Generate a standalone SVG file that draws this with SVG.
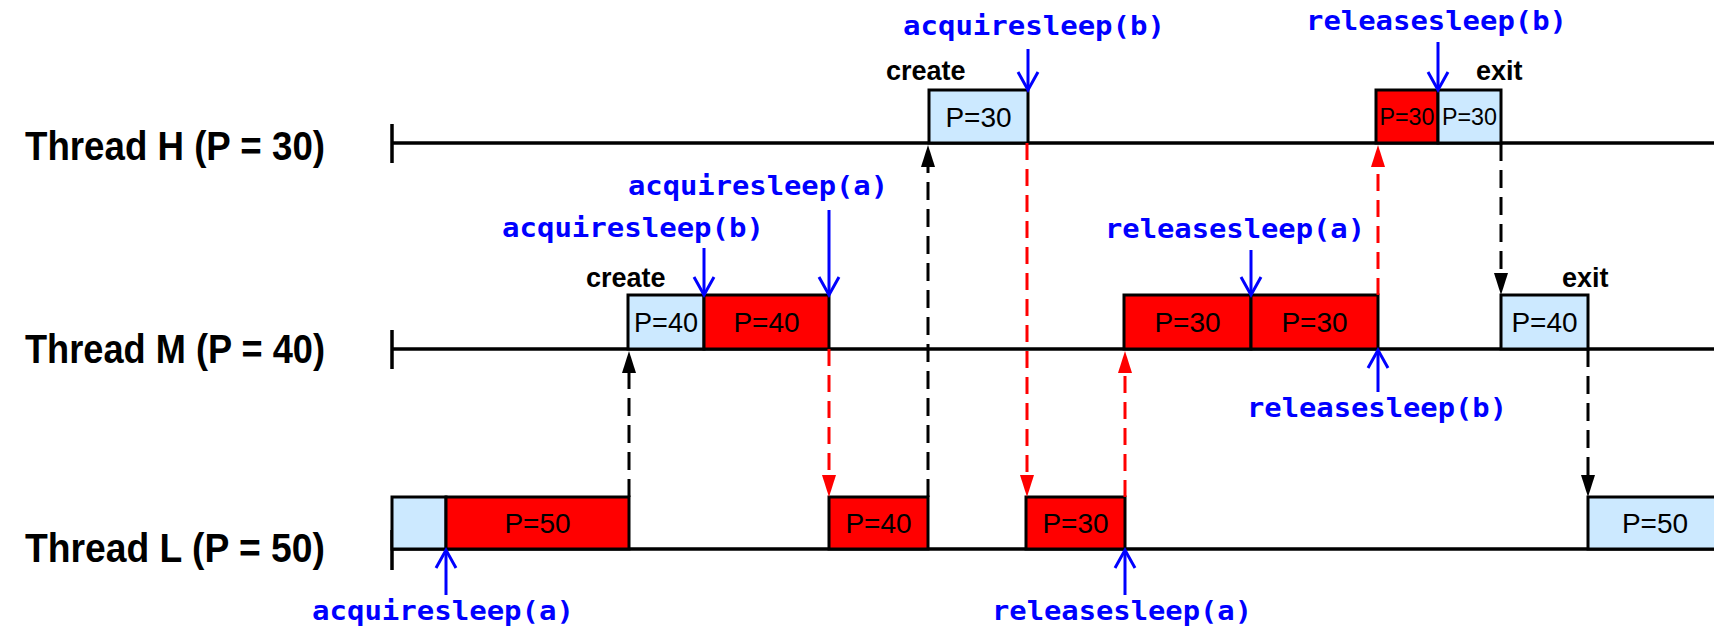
<svg xmlns="http://www.w3.org/2000/svg" width="1714" height="630" viewBox="0 0 1714 630">
<style>
.bg{fill:#ffffff}
.tl{stroke:#000;stroke-width:3.5;fill:none}
.lb{fill:#CCE9FF;stroke:#000;stroke-width:3}
.rd{fill:#FF0000;stroke:#000;stroke-width:3}
.thr{font-family:"Liberation Sans",Arial,sans-serif;font-weight:bold;font-size:40px;fill:#000;text-anchor:end}
.pt{font-family:"Liberation Sans",Arial,sans-serif;font-size:28px;fill:#000;text-anchor:middle}
.ps{font-family:"Liberation Sans",Arial,sans-serif;font-size:23px;fill:#000;text-anchor:middle}
.ev{font-family:"Liberation Sans",Arial,sans-serif;font-weight:bold;font-size:27px;fill:#000}
.op{font-family:"DejaVu Sans Mono","Liberation Mono",monospace;font-weight:bold;font-size:26px;fill:#0000FF}
.bdash{stroke:#000;stroke-width:3;stroke-dasharray:18 9;fill:none}
.rdash{stroke:#FF0000;stroke-width:3;stroke-dasharray:17 9;fill:none}
.blue{stroke:#0000FF;stroke-width:3;fill:none}
</style>
<defs>
<marker id="hb" markerUnits="userSpaceOnUse" markerWidth="24" markerHeight="16" refX="0" refY="7" orient="auto" overflow="visible">
<path d="M0,0 L22,7 L0,14 z" fill="#000"/>
</marker>
<marker id="hr" markerUnits="userSpaceOnUse" markerWidth="24" markerHeight="16" refX="0" refY="7" orient="auto" overflow="visible">
<path d="M0,0 L22,7 L0,14 z" fill="#FF0000"/>
</marker>
<marker id="ho" markerUnits="userSpaceOnUse" markerWidth="24" markerHeight="24" refX="18" refY="10" orient="auto" overflow="visible">
<path d="M0,0 L18,10 L0,20" fill="none" stroke="#0000FF" stroke-width="3"/>
</marker>
</defs>
<rect class="bg" x="0" y="0" width="1714" height="630"/>

<g id="threadH">
<text class="thr" x="325" y="160" textLength="300" lengthAdjust="spacingAndGlyphs">Thread H (P = 30)</text>
<line class="tl" x1="392" y1="143" x2="1714" y2="143"/>
<line class="tl" x1="392" y1="124" x2="392" y2="163"/>
<rect class="lb" x="929" y="90" width="99" height="53"/>
<text class="pt" x="978.5" y="127">P=30</text>
<rect class="rd" x="1376" y="90" width="62" height="53"/>
<text class="ps" x="1407" y="125" textLength="55" lengthAdjust="spacingAndGlyphs">P=30</text>
<rect class="lb" x="1438" y="90" width="63" height="53"/>
<text class="ps" x="1469.5" y="125" textLength="55" lengthAdjust="spacingAndGlyphs">P=30</text>
<text class="ev" x="886" y="80">create</text>
<text class="ev" x="1476" y="80">exit</text>
</g>

<g id="threadM">
<text class="thr" x="325" y="363" textLength="300" lengthAdjust="spacingAndGlyphs">Thread M (P = 40)</text>
<line class="tl" x1="392" y1="349" x2="1714" y2="349"/>
<line class="tl" x1="392" y1="330" x2="392" y2="369"/>
<rect class="lb" x="628" y="295" width="76" height="54"/>
<text class="pt" x="666" y="332" textLength="64" lengthAdjust="spacingAndGlyphs">P=40</text>
<rect class="rd" x="704" y="295" width="125" height="54"/>
<text class="pt" x="766.5" y="332">P=40</text>
<rect class="rd" x="1124" y="295" width="127" height="54"/>
<text class="pt" x="1187.5" y="332">P=30</text>
<rect class="rd" x="1251" y="295" width="127" height="54"/>
<text class="pt" x="1314.5" y="332">P=30</text>
<rect class="lb" x="1501" y="295" width="87" height="54"/>
<text class="pt" x="1544.5" y="332">P=40</text>
<text class="ev" x="586" y="287">create</text>
<text class="ev" x="1562" y="287">exit</text>
</g>

<g id="threadL">
<text class="thr" x="325" y="562" textLength="300" lengthAdjust="spacingAndGlyphs">Thread L (P = 50)</text>
<line class="tl" x1="392" y1="549" x2="1714" y2="549"/>
<line class="tl" x1="392" y1="530" x2="392" y2="570"/>
<rect class="lb" x="392" y="497" width="54" height="52"/>
<rect class="rd" x="446" y="497" width="183" height="52"/>
<text class="pt" x="537.5" y="533">P=50</text>
<rect class="rd" x="829" y="497" width="99" height="52"/>
<text class="pt" x="878.5" y="533">P=40</text>
<rect class="rd" x="1026" y="497" width="99" height="52"/>
<text class="pt" x="1075.5" y="533">P=30</text>
<rect class="lb" x="1588" y="497" width="140" height="52"/>
<text class="pt" x="1655" y="533">P=50</text>
</g>

<g id="connectors">
<line class="bdash" x1="629" y1="497" x2="629" y2="373" marker-end="url(#hb)"/>
<line class="rdash" x1="829" y1="349" x2="829" y2="475" marker-end="url(#hr)"/>
<line class="bdash" x1="928" y1="497" x2="928" y2="167" marker-end="url(#hb)"/>
<line class="rdash" x1="1027" y1="143" x2="1027" y2="475" marker-end="url(#hr)"/>
<line class="rdash" x1="1125" y1="497" x2="1125" y2="373" marker-end="url(#hr)"/>
<line class="rdash" x1="1378" y1="295" x2="1378" y2="167" marker-end="url(#hr)"/>
<line class="bdash" x1="1501" y1="143" x2="1501" y2="273" marker-end="url(#hb)"/>
<line class="bdash" x1="1588" y1="349" x2="1588" y2="475" marker-end="url(#hb)"/>
</g>

<g id="operations">
<text class="op" x="903" y="35" textLength="262" lengthAdjust="spacingAndGlyphs">acquiresleep(b)</text>
<line class="blue" x1="1028" y1="49" x2="1028" y2="90" marker-end="url(#ho)"/>
<text class="op" x="1306" y="30" textLength="261" lengthAdjust="spacingAndGlyphs">releasesleep(b)</text>
<line class="blue" x1="1438" y1="42" x2="1438" y2="90" marker-end="url(#ho)"/>
<text class="op" x="628" y="195" textLength="260" lengthAdjust="spacingAndGlyphs">acquiresleep(a)</text>
<line class="blue" x1="829" y1="210" x2="829" y2="295" marker-end="url(#ho)"/>
<text class="op" x="502" y="237" textLength="262" lengthAdjust="spacingAndGlyphs">acquiresleep(b)</text>
<line class="blue" x1="704" y1="248" x2="704" y2="295" marker-end="url(#ho)"/>
<text class="op" x="1105" y="238" textLength="260" lengthAdjust="spacingAndGlyphs">releasesleep(a)</text>
<line class="blue" x1="1251" y1="250" x2="1251" y2="295" marker-end="url(#ho)"/>
<text class="op" x="1247" y="417" textLength="260" lengthAdjust="spacingAndGlyphs">releasesleep(b)</text>
<line class="blue" x1="1378" y1="392" x2="1378" y2="350" marker-end="url(#ho)"/>
<text class="op" x="312" y="620" textLength="262" lengthAdjust="spacingAndGlyphs">acquiresleep(a)</text>
<line class="blue" x1="446" y1="595" x2="446" y2="550" marker-end="url(#ho)"/>
<text class="op" x="992" y="620" textLength="260" lengthAdjust="spacingAndGlyphs">releasesleep(a)</text>
<line class="blue" x1="1125" y1="595" x2="1125" y2="550" marker-end="url(#ho)"/>
</g>
</svg>
